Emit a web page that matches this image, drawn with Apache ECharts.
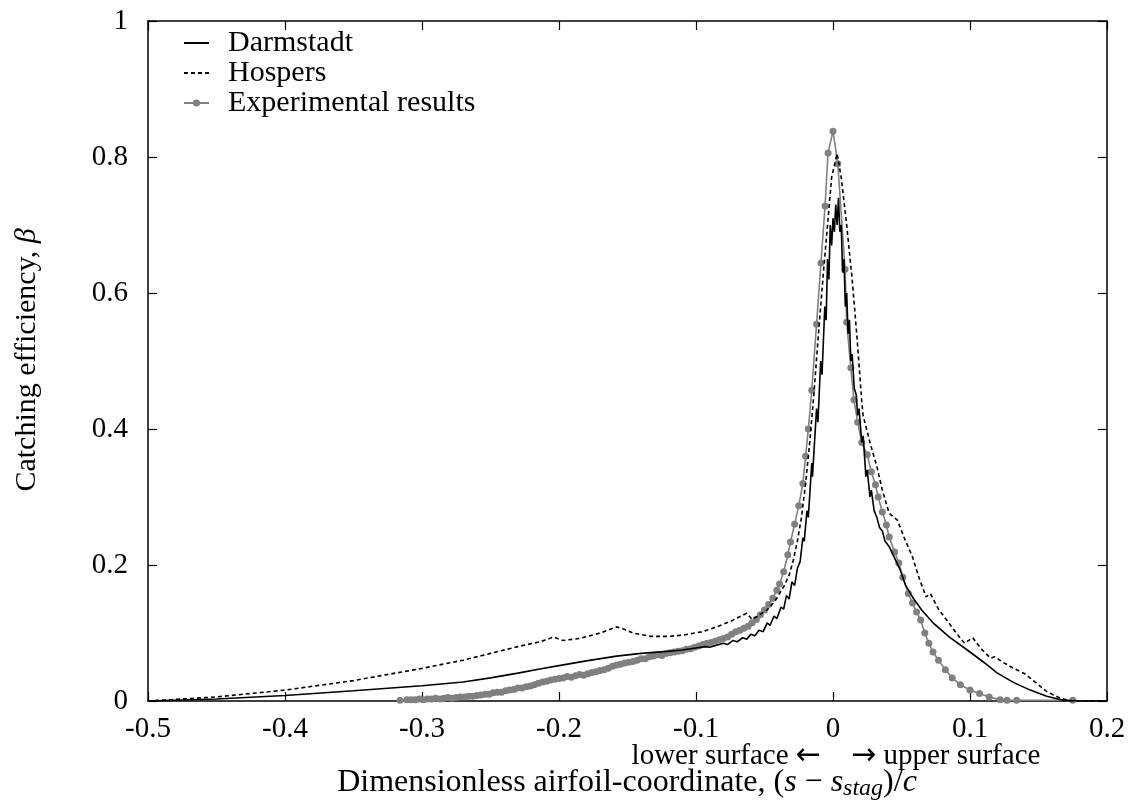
<!DOCTYPE html>
<html>
<head>
<meta charset="utf-8">
<script src="https://cdn.jsdelivr.net/npm/echarts@6/dist/echarts.min.js"></script>
<style>html,body{margin:0;padding:0;background:#fff}#c{width:1137px;height:807px}</style>
</head>
<body>
<div id="c"></div>
<script>
// ---- data ----
const xTicks = [-0.5, -0.4, -0.3, -0.2, -0.1, 0, 0.1, 0.2];
const yTicks = [0, 0.2, 0.4, 0.6, 0.8, 1];

const darmX = [-0.5,-0.45,-0.4,-0.35,-0.3,-0.27,-0.25,-0.23,-0.214,-0.2,-0.18,-0.158,-0.14,-0.121,-0.11,-0.1,-0.093,-0.09,-0.085,-0.08,-0.077,-0.073,-0.07,-0.066,-0.063,-0.06,-0.057,-0.054,-0.051,-0.048,-0.046,-0.043,-0.041,-0.038,-0.036,-0.034,-0.032,-0.03,-0.028,-0.026,-0.024,-0.022,-0.021,-0.019,-0.018,-0.0155,-0.015,-0.012,-0.011,-0.009,-0.008,-0.006,-0.005,-0.004,-0.003,-0.002,-0.001,0,0.001,0.002,0.003,0.004,0.005,0.006,0.007,0.008,0.009,0.01,0.011,0.012,0.013,0.014,0.0155,0.017,0.018,0.019,0.021,0.022,0.024,0.025,0.027,0.028,0.03,0.032,0.034,0.036,0.038,0.041,0.045,0.049,0.053,0.058,0.065,0.073,0.085,0.098,0.11,0.12,0.132,0.144,0.156,0.168,0.18,0.2];
const darmY = [0,0.003,0.008,0.015,0.0225,0.028,0.034,0.041,0.047,0.052,0.059,0.066,0.07,0.073,0.075,0.078,0.08,0.079,0.082,0.085,0.083,0.089,0.087,0.093,0.091,0.098,0.096,0.104,0.102,0.115,0.111,0.125,0.121,0.138,0.135,0.155,0.15,0.175,0.17,0.195,0.205,0.24,0.235,0.28,0.27,0.35,0.33,0.43,0.41,0.5,0.48,0.58,0.56,0.65,0.62,0.7,0.67,0.71,0.69,0.73,0.7,0.74,0.69,0.7,0.63,0.65,0.58,0.6,0.54,0.56,0.5,0.51,0.46,0.45,0.42,0.43,0.38,0.39,0.33,0.34,0.3,0.31,0.28,0.27,0.255,0.25,0.235,0.227,0.21,0.193,0.17,0.153,0.133,0.115,0.094,0.075,0.057,0.041,0.027,0.016,0.007,0.001,0,0];

const hospX = [-0.5,-0.45,-0.4,-0.35,-0.3,-0.27,-0.25,-0.23,-0.214,-0.204,-0.197,-0.185,-0.17,-0.158,-0.153,-0.146,-0.133,-0.12,-0.109,-0.095,-0.085,-0.075,-0.063,-0.059,-0.055,-0.048,-0.042,-0.036,-0.032,-0.029,-0.026,-0.023,-0.02,-0.017,-0.014,-0.011,-0.007,-0.004,-0.001,0.003,0.006,0.01,0.014,0.0175,0.021,0.022,0.027,0.032,0.036,0.041,0.047,0.052,0.058,0.063,0.068,0.071,0.077,0.083,0.09,0.096,0.102,0.108,0.115,0.118,0.124,0.131,0.14,0.148,0.156,0.165,0.173,0.2];
const hospY = [0,0.006,0.016,0.03,0.048,0.06,0.07,0.08,0.087,0.094,0.089,0.092,0.1,0.109,0.106,0.1,0.095,0.095,0.097,0.102,0.109,0.117,0.129,0.12,0.125,0.134,0.148,0.168,0.185,0.207,0.235,0.27,0.32,0.38,0.45,0.53,0.63,0.7,0.77,0.805,0.77,0.7,0.62,0.535,0.44,0.42,0.38,0.345,0.31,0.276,0.266,0.24,0.212,0.18,0.153,0.158,0.135,0.119,0.1,0.085,0.093,0.077,0.063,0.065,0.057,0.049,0.04,0.027,0.014,0.005,0,0];

const expX = [-0.316,-0.311,-0.308,-0.305,-0.302,-0.299,-0.296,-0.293,-0.29,-0.287,-0.284,-0.281,-0.278,-0.275,-0.272,-0.269,-0.266,-0.263,-0.26,-0.257,-0.254,-0.251,-0.248,-0.245,-0.242,-0.239,-0.236,-0.233,-0.23,-0.227,-0.224,-0.221,-0.218,-0.215,-0.212,-0.209,-0.206,-0.203,-0.2,-0.197,-0.194,-0.191,-0.188,-0.185,-0.182,-0.179,-0.176,-0.173,-0.17,-0.167,-0.164,-0.161,-0.158,-0.155,-0.152,-0.149,-0.146,-0.143,-0.14,-0.137,-0.134,-0.131,-0.128,-0.125,-0.122,-0.119,-0.116,-0.113,-0.11,-0.107,-0.104,-0.101,-0.098,-0.095,-0.092,-0.089,-0.086,-0.083,-0.08,-0.077,-0.074,-0.071,-0.068,-0.065,-0.062,-0.059,-0.056,-0.053,-0.05,-0.047,-0.044,-0.041,-0.039,-0.036,-0.033,-0.031,-0.028,-0.025,-0.022,-0.02,-0.018,-0.0155,-0.012,-0.0088,-0.0058,-0.0036,0,0.0035,0.0088,0.01,0.013,0.0153,0.018,0.021,0.025,0.028,0.031,0.033,0.036,0.039,0.041,0.045,0.048,0.051,0.055,0.058,0.061,0.064,0.067,0.07,0.073,0.077,0.082,0.087,0.093,0.1,0.107,0.114,0.122,0.127,0.134,0.175];
const expY = [0.001,0.002,0.002,0.002,0.003,0.002,0.003,0.003,0.004,0.003,0.004,0.005,0.004,0.005,0.006,0.006,0.007,0.007,0.008,0.009,0.01,0.01,0.012,0.013,0.013,0.015,0.016,0.017,0.019,0.019,0.021,0.022,0.024,0.026,0.028,0.029,0.031,0.032,0.033,0.034,0.036,0.035,0.037,0.039,0.038,0.04,0.042,0.043,0.045,0.046,0.048,0.051,0.053,0.054,0.056,0.057,0.058,0.06,0.062,0.062,0.065,0.066,0.068,0.067,0.07,0.071,0.072,0.073,0.074,0.076,0.077,0.079,0.081,0.083,0.085,0.086,0.088,0.09,0.092,0.094,0.098,0.102,0.104,0.107,0.11,0.115,0.12,0.127,0.134,0.142,0.151,0.163,0.172,0.19,0.215,0.234,0.26,0.287,0.32,0.36,0.4,0.457,0.554,0.644,0.728,0.806,0.838,0.79,0.635,0.557,0.49,0.443,0.41,0.38,0.362,0.337,0.318,0.3,0.278,0.259,0.241,0.219,0.203,0.182,0.158,0.144,0.131,0.119,0.1,0.085,0.072,0.06,0.046,0.034,0.024,0.016,0.011,0.006,0.002,0.001,0.001,0.001];

const FONT = 'Liberation Serif';
const zip = (xs, ys) => xs.map((x, i) => [x, ys[i]]);

const chart = echarts.init(document.getElementById('c'), null, {renderer: 'canvas'});
const axisLineStyle = {color: '#000', width: 1.5};
const tickStyle = {show: true, inside: true, length: 9, lineStyle: {color: '#000', width: 1.2}};
const noSym = {opacity: 0, color: 'transparent', borderWidth: 0};

chart.setOption({
  animation: false,
  backgroundColor: '#fff',
  grid: {left: 148, right: 30, top: 21, bottom: 106, containLabel: false},
  legend: {
    orient: 'vertical', left: 183, top: 28, padding: 0, itemGap: 0,
    itemWidth: 25, itemHeight: 9,
    textStyle: {fontFamily: FONT, fontSize: 30, color: '#000', padding: [0, 0, 0, 14], lineHeight: 29.5},
    data: [
      {name: 'Darmstadt', itemStyle: noSym},
      {name: 'Hospers', itemStyle: noSym},
      {name: 'Experimental results'}
    ]
  },
  xAxis: [{
    type: 'value', min: xTicks[0], max: xTicks[xTicks.length - 1], interval: 0.1,
    axisLine: {show: true, onZero: false, lineStyle: axisLineStyle},
    axisTick: tickStyle, splitLine: {show: false},
    axisLabel: {fontFamily: FONT, fontSize: 29, color: '#000', margin: 14}
  }, {
    type: 'value', position: 'top', min: xTicks[0], max: xTicks[xTicks.length - 1], interval: 0.1,
    axisLine: {show: true, onZero: false, lineStyle: axisLineStyle},
    axisTick: tickStyle, splitLine: {show: false}, axisLabel: {show: false}
  }],
  yAxis: [{
    type: 'value', min: yTicks[0], max: yTicks[yTicks.length - 1], interval: 0.2,
    axisLine: {show: true, onZero: false, lineStyle: axisLineStyle},
    axisTick: tickStyle, splitLine: {show: false},
    axisLabel: {fontFamily: FONT, fontSize: 29, color: '#000', margin: 20}
  }, {
    type: 'value', position: 'right', min: yTicks[0], max: yTicks[yTicks.length - 1], interval: 0.2,
    axisLine: {show: true, onZero: false, lineStyle: axisLineStyle},
    axisTick: tickStyle, splitLine: {show: false}, axisLabel: {show: false}
  }],
  series: [{
    name: 'Darmstadt', type: 'line', symbol: 'none', z: 4,
    lineStyle: {color: '#000', width: 1.6}, itemStyle: {color: '#000'},
    data: zip(darmX, darmY)
  }, {
    name: 'Hospers', type: 'line', symbol: 'none', z: 3,
    lineStyle: {color: '#000', width: 1.6, type: [4, 3]}, itemStyle: {color: '#000'},
    data: zip(hospX, hospY)
  }, {
    name: 'Experimental results', type: 'line', symbol: 'circle', symbolSize: 7, z: 2,
    lineStyle: {color: '#808080', width: 1.6}, itemStyle: {color: '#808080'},
    data: zip(expX, expY)
  }],
  graphic: [{
    type: 'text', x: 836, y: 756,
    style: {
      text: '{t|lower surface }{ar|\u2190}{sp|}{ar|\u2192}{t| upper surface}',
      align: 'center', verticalAlign: 'middle', fill: '#000',
      rich: {
        t: {fontFamily: FONT, fontSize: 29, lineHeight: 32, fill: '#000'},
        ar: {fontFamily: 'DejaVu Sans', fontSize: 30, lineHeight: 32, fill: '#000'},
        sp: {width: 30, lineHeight: 32}
      }
    }
  }, {
    type: 'text', x: 627, y: 783,
    style: {
      text: '{a|Dimensionless airfoil-coordinate, (}{i|s}{a| \u2212 }{i|s}{sub|stag}{a|)/}{i|c}',
      align: 'center', verticalAlign: 'middle', fill: '#000',
      rich: {
        a: {fontFamily: FONT, fontSize: 32, lineHeight: 36, fill: '#000'},
        i: {fontFamily: FONT, fontSize: 32, fontStyle: 'italic', lineHeight: 36, fill: '#000'},
        sub: {fontFamily: FONT, fontSize: 24, fontStyle: 'italic', lineHeight: 22, verticalAlign: 'bottom', fill: '#000'}
      }
    }
  }, {
    type: 'text', x: 27, y: 360, rotation: Math.PI / 2,
    style: {
      text: '{a|Catching efficiency, }{i|\u03b2}',
      align: 'center', verticalAlign: 'middle', fill: '#000',
      rich: {
        a: {fontFamily: FONT, fontSize: 30, fill: '#000'},
        i: {fontFamily: FONT, fontSize: 30, fontStyle: 'italic', fill: '#000'}
      }
    }
  }]
});
</script>
</body>
</html>
